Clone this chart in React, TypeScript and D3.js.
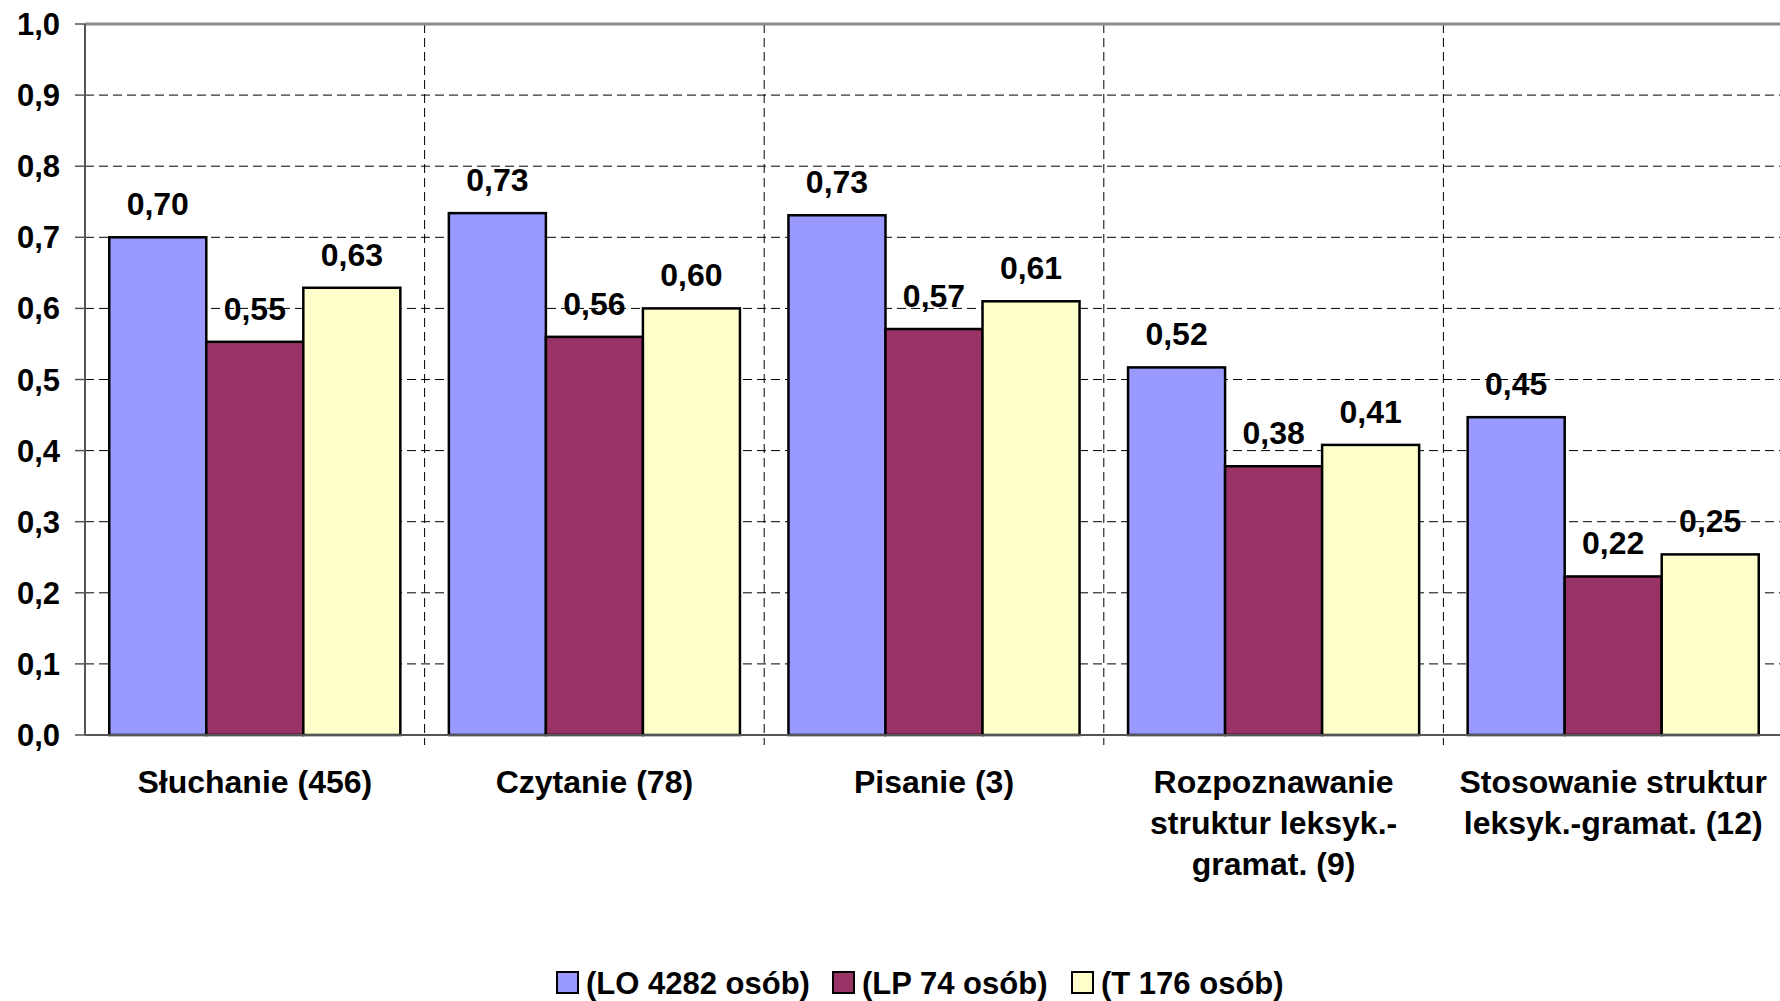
import React from 'react';
import * as d3 from 'd3';

const categories = [
  ['Słuchanie (456)'],
  ['Czytanie (78)'],
  ['Pisanie (3)'],
  ['Rozpoznawanie', 'struktur leksyk.-', 'gramat. (9)'],
  ['Stosowanie struktur', 'leksyk.-gramat. (12)'],
];
const seriesNames = ['(LO 4282 osób)', '(LP 74 osób)', '(T 176 osób)'];
const seriesColors = ['#9999FF', '#993366', '#FFFFCC'];
const lo = [0.70, 0.734, 0.731, 0.517, 0.447];
const lp = [0.553, 0.56, 0.571, 0.378, 0.223];
const t = [0.629, 0.60, 0.61, 0.408, 0.254];
const series = [lo, lp, t];
const yTicks = [0, 0.1, 0.2, 0.3, 0.4, 0.5, 0.6, 0.7, 0.8, 0.9, 1.0];

const W = 1780;
const H = 1001;
const margin = { top: 24, right: -3, bottom: 266, left: 85 };
const font = '"Liberation Sans", Arial, sans-serif';

const App: React.FC = () => {
  const x0 = d3.scaleBand<number>()
    .domain(d3.range(categories.length))
    .range([margin.left, W - margin.right])
    .padding(0);
  const x1 = d3.scaleBand<number>()
    .domain(d3.range(series.length))
    .range([0, x0.bandwidth()])
    .paddingInner(0)
    .paddingOuter(0.25);
  const y = d3.scaleLinear().domain([0, 1]).range([H - margin.bottom, margin.top]);
  const fmt = (v: number, d: number) => v.toFixed(d).replace('.', ',');

  const bottom = y(0);
  const right = W - margin.right;
  const legendX = [557, 833, 1072];

  return (
    <div style={{ position: 'absolute', left: 0, top: 0 }}>
      <svg width={W} height={H} style={{ display: 'block', background: '#fff' }} fontFamily={font} fontWeight="bold">
        {/* horizontal grid */}
        {yTicks.filter(v => v > 0 && v < 1).map(v => (
          <line key={'g' + v} x1={margin.left} x2={right} y1={y(v)} y2={y(v)}
            stroke="#000" strokeWidth={1} strokeDasharray="9,5" />
        ))}
        {/* vertical dashed category separators */}
        {d3.range(1, categories.length).map(i => (
          <line key={'v' + i} x1={x0(i)!} x2={x0(i)!} y1={margin.top} y2={bottom + 10}
            stroke="#000" strokeWidth={1} strokeDasharray="9,5" />
        ))}
        {/* top border */}
        <line x1={margin.left} x2={W} y1={y(1)} y2={y(1)} stroke="#8c8c8c" strokeWidth={3} />
        {/* bars */}
        {series.map((s, si) => s.map((v, ci) => (
          <rect key={`b${si}-${ci}`} x={x0(ci)! + x1(si)!} y={y(v)} width={x1.bandwidth()} height={bottom - y(v)}
            fill={seriesColors[si]} stroke="#000" strokeWidth={2.5} />
        )))}
        {/* value labels */}
        {series.map((s, si) => s.map((v, ci) => (
          <text key={`l${si}-${ci}`} x={x0(ci)! + x1(si)! + x1.bandwidth() / 2} y={y(v) - 22}
            textAnchor="middle" fontSize={32} fill="#000">{fmt(v, 2)}</text>
        )))}
        {/* axes */}
        <line x1={margin.left} x2={margin.left} y1={y(1)} y2={bottom} stroke="#555" strokeWidth={2} />
        <line x1={margin.left} x2={W} y1={bottom} y2={bottom} stroke="#555" strokeWidth={2} />
        {yTicks.map(v => (
          <g key={'t' + v}>
            <line x1={margin.left - 10} x2={margin.left} y1={y(v)} y2={y(v)} stroke="#555" strokeWidth={1.5} />
            <text x={60} y={y(v) + 11} textAnchor="end" fontSize={31} fill="#000">{fmt(v, 1)}</text>
          </g>
        ))}
        {/* category labels */}
        {categories.map((lines, ci) => (
          <text key={'c' + ci} x={x0(ci)! + x0.bandwidth() / 2} y={793} textAnchor="middle" fontSize={32} fill="#000">
            {lines.map((l, li) => (
              <tspan key={li} x={x0(ci)! + x0.bandwidth() / 2} dy={li === 0 ? 0 : 41}>{l}</tspan>
            ))}
          </text>
        ))}
        {/* legend */}
        {seriesNames.map((n, i) => (
          <g key={'lg' + i} transform={`translate(${legendX[i]},983)`}>
            <rect x={0} y={-11} width={21} height={21} fill={seriesColors[i]} stroke="#000" strokeWidth={2} />
            <text x={29} y={11} fontSize={31} fill="#000">{n}</text>
          </g>
        ))}
      </svg>
    </div>
  );
};

export default App;
